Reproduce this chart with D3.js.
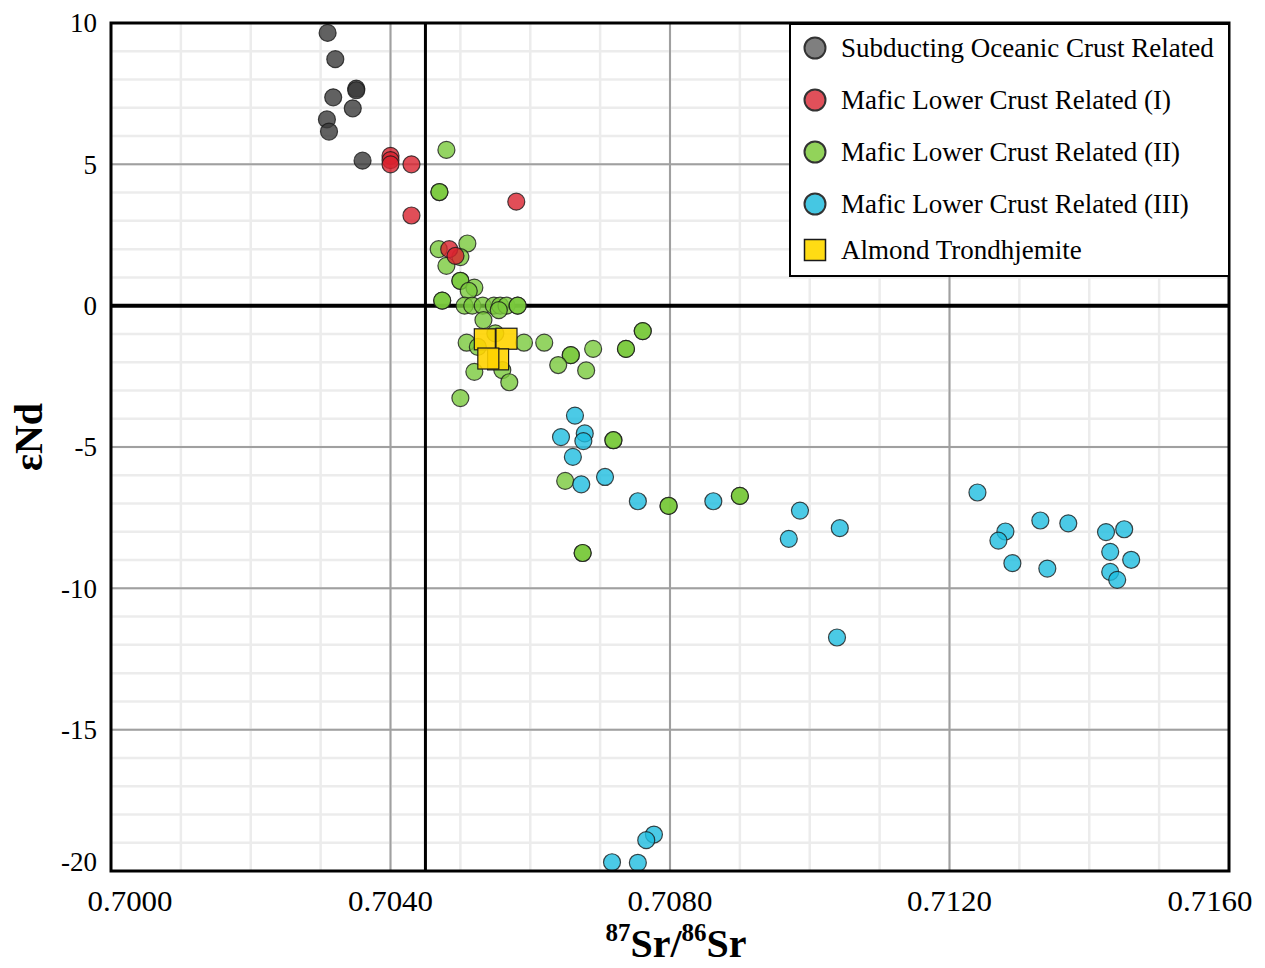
<!DOCTYPE html>
<html>
<head>
<meta charset="utf-8">
<script src="https://cdn.jsdelivr.net/npm/d3@7"></script>
<style>
  body { margin: 0; background: #fff; }
  svg { display: block; font-family: "Liberation Serif", "Times New Roman", serif; }
</style>
</head>
<body>
<svg id="chart" width="1265" height="968"></svg>
<script>
const width = 1265;
const height = 968;
const margin = {left: 111, right: 36, top: 23, bottom: 97};

// [87Sr/86Sr, eNd] pairs; repeated pairs are stacked samples
const oceanic = [
  [0.70310, 9.65], [0.70321, 8.72], [0.70351, 7.68], [0.70351, 7.62], [0.70318, 7.37],
  [0.70346, 6.98], [0.70309, 6.59], [0.70312, 6.16], [0.70360, 5.13]
];
const mafic1 = [
  [0.70400, 5.30], [0.70400, 5.15], [0.70400, 5.00], [0.70430, 5.00], [0.70430, 3.19],
  [0.70580, 3.68], [0.70484, 2.00], [0.70493, 1.76]
];
const mafic2 = [
  [0.70480, 5.51], [0.70470, 4.02], [0.70470, 4.02], [0.70469, 2.00], [0.70510, 2.20],
  [0.70480, 1.41], [0.70500, 1.72], [0.70500, 0.88], [0.70500, 0.88], [0.70520, 0.64],
  [0.70512, 0.52], [0.70474, 0.18], [0.70474, 0.18], [0.70506, 0.00], [0.70517, 0.00],
  [0.70532, 0.00], [0.70548, 0.00], [0.70557, 0.00], [0.70566, 0.00], [0.70582, 0.00],
  [0.70582, 0.00], [0.70555, -0.16], [0.70533, -0.51], [0.70550, -0.98], [0.70509, -1.31],
  [0.70525, -1.46], [0.70591, -1.31], [0.70620, -1.31], [0.70658, -1.75], [0.70658, -1.75],
  [0.70690, -1.53], [0.70737, -1.53], [0.70737, -1.53], [0.70761, -0.90], [0.70761, -0.90],
  [0.70640, -2.10], [0.70680, -2.29], [0.70520, -2.34], [0.70560, -2.28], [0.70570, -2.71],
  [0.70500, -3.27], [0.70719, -4.76], [0.70719, -4.76], [0.70650, -6.20], [0.70798, -7.08],
  [0.70798, -7.08], [0.70900, -6.73], [0.70900, -6.73], [0.70675, -8.75], [0.70675, -8.75]
];
const mafic3 = [
  [0.70664, -3.89], [0.70644, -4.65], [0.70678, -4.52], [0.70676, -4.79], [0.70661, -5.35],
  [0.70673, -6.32], [0.70707, -6.06], [0.70754, -6.92], [0.70862, -6.92], [0.70986, -7.25],
  [0.70970, -8.25], [0.71043, -7.87], [0.71240, -6.61], [0.71280, -7.99], [0.71270, -8.31],
  [0.71330, -7.60], [0.71370, -7.70], [0.71290, -9.11], [0.71340, -9.30], [0.71424, -8.01],
  [0.71450, -7.91], [0.71430, -8.71], [0.71460, -8.99], [0.71430, -9.42], [0.71440, -9.70],
  [0.71039, -11.74], [0.70777, -18.71], [0.70766, -18.91], [0.70717, -19.69], [0.70754, -19.71]
];
const almond = [
  [0.70535, -1.19], [0.70566, -1.17], [0.70554, -1.90], [0.70540, -1.87]
];

const legendLabels = [
  'Subducting Oceanic Crust Related',
  'Mafic Lower Crust Related (I)',
  'Mafic Lower Crust Related (II)',
  'Mafic Lower Crust Related (III)',
  'Almond Trondhjemite'
];
const xTicks = [0.7000, 0.7040, 0.7080, 0.7120, 0.7160];
const yTicks = [10, 5, 0, -5, -10, -15, -20];
const srDivide = 0.7045;

const fills = ['#3a3a3a', '#d9222e', '#79c93c', '#1ebde0', '#ffd400'];
const legendFills = ['#7f7f7f', '#e0505a', '#92d35a', '#45c7e3', '#ffdc14'];

const svg = d3.select('#chart');

const x = d3.scaleLinear()
  .domain([0.700, 0.716])
  .range([margin.left, width - margin.right]);
const y = d3.scaleLinear()
  .domain([-20, 10])
  .range([height - margin.bottom, margin.top]);

// grid
const grid = svg.append('g');
grid.selectAll('.vminor')
  .data(d3.range(1, 16).map(i => 0.700 + i * 0.001))
  .join('line')
  .attr('x1', d => x(d)).attr('x2', d => x(d))
  .attr('y1', y(-20)).attr('y2', y(10))
  .attr('stroke', '#ececec').attr('stroke-width', 2.5);
grid.selectAll('.hminor')
  .data(d3.range(-19, 10))
  .join('line')
  .attr('x1', x(0.700)).attr('x2', x(0.716))
  .attr('y1', d => y(d)).attr('y2', d => y(d))
  .attr('stroke', '#ececec').attr('stroke-width', 2.5);
grid.selectAll('.vmajor')
  .data(xTicks.slice(1, -1))
  .join('line')
  .attr('x1', d => x(d)).attr('x2', d => x(d))
  .attr('y1', y(-20)).attr('y2', y(10))
  .attr('stroke', '#a0a0a0').attr('stroke-width', 2);
grid.selectAll('.hmajor')
  .data(yTicks.filter(d => d !== 10 && d !== -20 && d !== 0))
  .join('line')
  .attr('x1', x(0.700)).attr('x2', x(0.716))
  .attr('y1', d => y(d)).attr('y2', d => y(d))
  .attr('stroke', '#a0a0a0').attr('stroke-width', 2);

// reference lines
svg.append('line')
  .attr('x1', x(srDivide)).attr('x2', x(srDivide))
  .attr('y1', y(-20)).attr('y2', y(10))
  .attr('stroke', '#000').attr('stroke-width', 3);
svg.append('line')
  .attr('x1', x(0.700)).attr('x2', x(0.716))
  .attr('y1', y(0)).attr('y2', y(0))
  .attr('stroke', '#000').attr('stroke-width', 4);

// points
const circleGroups = [[oceanic, 0], [mafic2, 2], [mafic3, 3], [mafic1, 1]];
circleGroups.forEach(([data, i]) => {
  svg.append('g').selectAll('circle')
    .data(data)
    .join('circle')
    .attr('cx', d => x(d[0]))
    .attr('cy', d => y(d[1]))
    .attr('r', 8.5)
    .attr('fill', fills[i])
    .attr('fill-opacity', 0.8)
    .attr('stroke', '#1a1a1a')
    .attr('stroke-opacity', 0.8)
    .attr('stroke-width', 1.2);
});
const sq = 21;
svg.append('g').selectAll('rect')
  .data(almond)
  .join('rect')
  .attr('x', d => x(d[0]) - sq / 2)
  .attr('y', d => y(d[1]) - sq / 2)
  .attr('width', sq).attr('height', sq)
  .attr('fill', fills[4])
  .attr('fill-opacity', 0.9)
  .attr('stroke', '#1a1a1a')
  .attr('stroke-width', 1.2);

// frame
svg.append('rect')
  .attr('x', x(0.700)).attr('y', y(10))
  .attr('width', x(0.716) - x(0.700))
  .attr('height', y(-20) - y(10))
  .attr('fill', 'none')
  .attr('stroke', '#000')
  .attr('stroke-width', 3);

// axes labels
svg.append('g').selectAll('text')
  .data(xTicks)
  .join('text')
  .attr('x', (d, i) => x(d) + (i === 0 ? 19 : i === xTicks.length - 1 ? -19 : 0))
  .attr('y', 911)
  .attr('text-anchor', 'middle')
  .attr('font-size', 30)
  .attr('textLength', 85)
  .attr('lengthAdjust', 'spacingAndGlyphs')
  .text(d => d.toFixed(4));

svg.append('g').selectAll('text')
  .data(yTicks)
  .join('text')
  .attr('x', 97)
  .attr('y', d => d === -20 ? y(d) - 9 : y(d))
  .attr('dy', '0.35em')
  .attr('text-anchor', 'end')
  .attr('font-size', 27)
  .text(d => d);

const xTitle = svg.append('text')
  .attr('x', 676)
  .attr('y', 957)
  .attr('text-anchor', 'middle')
  .attr('font-size', 40)
  .attr('font-weight', 'bold');
xTitle.append('tspan').attr('font-size', 25).attr('dy', -16).text('87');
xTitle.append('tspan').attr('dy', 16).text('Sr/');
xTitle.append('tspan').attr('font-size', 25).attr('dy', -16).text('86');
xTitle.append('tspan').attr('dy', 16).text('Sr');

svg.append('text')
  .attr('transform', 'translate(42,437) rotate(-90)')
  .attr('text-anchor', 'middle')
  .attr('font-size', 40)
  .attr('font-weight', 'bold')
  .text('\u03B5Nd');

// legend
const legend = svg.append('g');
legend.append('rect')
  .attr('x', 790).attr('y', 24)
  .attr('width', 439).attr('height', 252)
  .attr('fill', '#fff')
  .attr('stroke', '#000')
  .attr('stroke-width', 2);
const legendY = [48, 100, 152, 204, 250];
legendLabels.forEach((label, i) => {
  if (i === 4) {
    legend.append('rect')
      .attr('x', 815 - 10.5).attr('y', legendY[i] - 10.5)
      .attr('width', 21).attr('height', 21)
      .attr('fill', legendFills[i])
      .attr('stroke', '#1a1a1a').attr('stroke-width', 1.5);
  } else {
    legend.append('circle')
      .attr('cx', 815).attr('cy', legendY[i])
      .attr('r', 10.5)
      .attr('fill', legendFills[i])
      .attr('stroke', '#333').attr('stroke-width', 2);
  }
  legend.append('text')
    .attr('x', 841).attr('y', legendY[i])
    .attr('dy', '0.35em')
    .attr('font-size', 27)
    .text(label);
});
</script>
</body>
</html>
